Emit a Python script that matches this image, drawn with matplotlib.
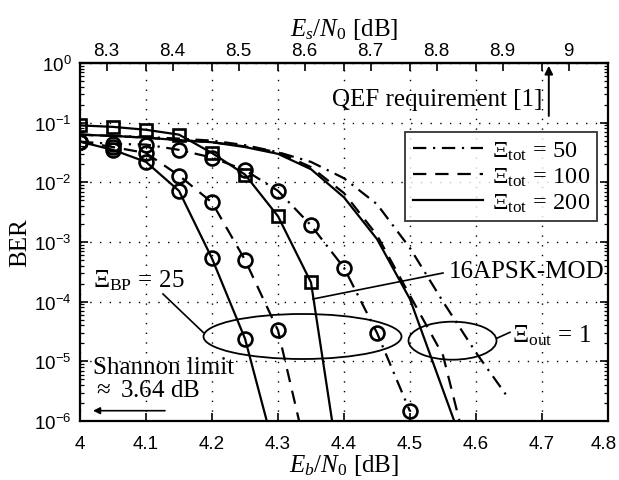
import numpy as np
import matplotlib
matplotlib.use('Agg')
import matplotlib.pyplot as plt
import matplotlib.transforms as mtransforms
from matplotlib.patches import Ellipse
from matplotlib.lines import Line2D
from matplotlib.ticker import LogLocator, NullFormatter, FixedLocator, FixedFormatter

plt.rcParams['font.family'] = ['Liberation Serif', 'DejaVu Serif']
plt.rcParams['mathtext.fontset'] = 'custom'
plt.rcParams['mathtext.rm'] = 'Liberation Serif'
plt.rcParams['mathtext.it'] = 'Liberation Serif:italic'
plt.rcParams['mathtext.bf'] = 'Liberation Serif:bold'
plt.rcParams['mathtext.sf'] = 'Liberation Sans'

# ---------------- data ----------------
# Xi_BP = 25 curves (circle markers); last point = where line leaves the plot
bp_x_200 = [4.0, 4.05, 4.1, 4.15, 4.2, 4.25, 4.283]
bp_y_200 = [4.8e-2, 3.5e-2, 2.2e-2, 7.2e-3, 5.3e-4, 2.4e-5, 1.0e-6]
bp_x_100 = [4.0, 4.05, 4.1, 4.15, 4.2, 4.25, 4.3, 4.332]
bp_y_100 = [4.8e-2, 3.9e-2, 3.1e-2, 1.3e-2, 4.6e-3, 5.0e-4, 3.3e-5, 1.0e-6]
bp_x_50 = [4.0, 4.05, 4.1, 4.15, 4.2, 4.25, 4.3, 4.35, 4.4, 4.45, 4.5]
bp_y_50 = [4.8e-2, 4.4e-2, 4.3e-2, 3.5e-2, 2.6e-2, 1.6e-2, 7.2e-3, 1.9e-3, 3.7e-4, 3.0e-5, 1.45e-6]

# 16APSK-MOD (square markers)
mod_x = [4.0, 4.05, 4.1, 4.15, 4.2, 4.25, 4.3, 4.35, 4.382]
mod_y = [9.0e-2, 8.5e-2, 7.6e-2, 6.3e-2, 3.1e-2, 1.35e-2, 2.7e-3, 2.1e-4, 1.0e-6]

# Xi_out = 1 curves (no markers)
out_x_200 = [4.0, 4.05, 4.1, 4.15, 4.2, 4.25, 4.3, 4.35, 4.4, 4.45, 4.5, 4.55, 4.567]
out_y_200 = [6.3e-2, 6.0e-2, 5.6e-2, 5.1e-2, 4.7e-2, 3.9e-2, 3.0e-2, 1.66e-2, 5.6e-3, 1.12e-3, 1.1e-4, 3.3e-6, 1.0e-6]
out_x_100 = [4.0, 4.05, 4.1, 4.15, 4.2, 4.25, 4.3, 4.35, 4.4, 4.45, 4.5, 4.55, 4.575]
out_y_100 = [6.3e-2, 6.0e-2, 5.6e-2, 5.1e-2, 4.7e-2, 4.0e-2, 3.2e-2, 1.8e-2, 6.6e-3, 1.3e-3, 1.26e-4, 1.26e-5, 1.0e-6]
out_x_50 = [4.0, 4.05, 4.1, 4.15, 4.2, 4.25, 4.3, 4.35, 4.4, 4.45, 4.5, 4.55, 4.6, 4.645]
out_y_50 = [6.3e-2, 6.0e-2, 5.75e-2, 5.4e-2, 5.0e-2, 4.2e-2, 3.2e-2, 2.2e-2, 1.17e-2, 4.3e-3, 7.9e-4, 1.0e-4, 1.4e-5, 2.8e-6]

legend_labels = [r'$\Xi_{\mathrm{tot}}\,=\,50$', r'$\Xi_{\mathrm{tot}}\,=\,100$', r'$\Xi_{\mathrm{tot}}\,=\,200$']
xticks = [4.0, 4.1, 4.2, 4.3, 4.4, 4.5, 4.6, 4.7, 4.8]
xticklabels = ['4', '4.1', '4.2', '4.3', '4.4', '4.5', '4.6', '4.7', '4.8']
es_ticks = [8.3, 8.4, 8.5, 8.6, 8.7, 8.8, 8.9, 9.0]
es_ticklabels = ['8.3', '8.4', '8.5', '8.6', '8.7', '8.8', '8.9', '9']
yticks = [1e-6, 1e-5, 1e-4, 1e-3, 1e-2, 1e-1, 1e0]
yticklabels = [r'$\mathsf{10^{-6}}$', r'$\mathsf{10^{-5}}$', r'$\mathsf{10^{-4}}$',
               r'$\mathsf{10^{-3}}$', r'$\mathsf{10^{-2}}$', r'$\mathsf{10^{-1}}$', r'$\mathsf{10^{0}}$']
es_offset = 10 * np.log10(4 * 2 / 3)   # 16APSK rate 2/3
qef_es = 8.97

# ---------------- styles ----------------
LW = 1.6
DASH = (0, (6, 4))
DASHDOT = (0, (6, 3, 1, 3))
SOLID = '-'
FS = 18

W, H = 619, 481
fig = plt.figure(figsize=(W / 100, H / 100), dpi=100)
L, R, T, B = 80, 608, 64, 422
ax = fig.add_axes([L / W, 1 - B / H, (R - L) / W, (B - T) / H])

def px(xp, yp):
    return ((xp - L) / (R - L), (B - yp) / (B - T))

circ = dict(marker='o', ms=10, mfc='none', mec='k', mew=1.9)
sq = dict(marker='s', ms=9, mfc='none', mec='k', mew=1.9)

ax.plot(out_x_50, out_y_50, color='k', lw=LW, ls=DASHDOT)
ax.plot(out_x_100, out_y_100, color='k', lw=LW, ls=DASH)
ax.plot(out_x_200, out_y_200, color='k', lw=LW, ls=SOLID)

ax.plot(mod_x, mod_y, color='k', lw=LW, ls=SOLID, markevery=list(range(len(mod_x) - 1)), **sq)
ax.plot(bp_x_50, bp_y_50, color='k', lw=LW, ls=DASHDOT, **circ)
ax.plot(bp_x_100, bp_y_100, color='k', lw=LW, ls=DASH, markevery=list(range(len(bp_x_100) - 1)), **circ)
ax.plot(bp_x_200, bp_y_200, color='k', lw=LW, ls=SOLID, markevery=list(range(len(bp_x_200) - 1)), **circ)

ax.set_yscale('log')
ax.set_xlim(4.0, 4.8)
ax.set_ylim(1e-6, 1e0)

ax.xaxis.set_major_locator(FixedLocator(xticks))
ax.xaxis.set_major_formatter(FixedFormatter(xticklabels))
ax.yaxis.set_major_locator(FixedLocator(yticks))
ax.yaxis.set_major_formatter(FixedFormatter(yticklabels))
ax.yaxis.set_minor_locator(LogLocator(base=10, subs=np.arange(2, 10)))
ax.yaxis.set_minor_formatter(NullFormatter())

ax.grid(True, which='major', color='k', lw=1.0, ls=(0, (1, 6)))
ax.tick_params(which='major', direction='in', length=6, width=1.2, top=True, right=True,
               labelsize=13.5, labelfontfamily='Liberation Sans')
ax.tick_params(axis='x', pad=10)
ax.tick_params(axis='y', pad=6)
ax.tick_params(which='minor', direction='in', length=3, width=0.9, right=True)
for s in ax.spines.values():
    s.set_linewidth(1.6)

# keep the last bottom tick label inside the canvas
last_lbl = ax.get_xticklabels()[-1]
last_lbl.set_transform(last_lbl.get_transform() +
                       mtransforms.ScaledTranslation(-4 / 100, 0, fig.dpi_scale_trans))

ax.set_xlabel(r'$E_b/N_0$ [dB]', fontsize=FS, labelpad=0)
ax.set_ylabel('BER', fontsize=FS, labelpad=2)

sec = ax.secondary_xaxis('top', functions=(lambda x: x + es_offset, lambda x: x - es_offset))
sec.xaxis.set_major_locator(FixedLocator(es_ticks))
sec.xaxis.set_major_formatter(FixedFormatter(es_ticklabels))
sec.tick_params(direction='in', length=6, width=1.2, labelsize=13.5,
                labelfontfamily='Liberation Sans', pad=3)
sec.set_xlabel(r'$E_s/N_0$ [dB]', fontsize=FS, labelpad=5)
sec.spines['top'].set_linewidth(1.6)

# legend
handles = [Line2D([], [], color='k', lw=LW, ls=DASHDOT),
           Line2D([], [], color='k', lw=LW, ls=DASH),
           Line2D([], [], color='k', lw=LW, ls=SOLID)]
leg = ax.legend(handles, legend_labels, loc='upper right', bbox_to_anchor=px(597, 133),
                fontsize=17.5, handlelength=2.9, handletextpad=0.35, labelspacing=0.15,
                borderpad=0.3, borderaxespad=0, frameon=True, fancybox=False)
leg.get_frame().set_edgecolor('k')
leg.get_frame().set_linewidth(1.3)

# annotations
qef_eb = qef_es - es_offset
ax.annotate('', xy=(qef_eb, 1.0), xycoords=('data', 'axes fraction'),
            xytext=(qef_eb, px(0, 117)[1]), textcoords=('data', 'axes fraction'),
            arrowprops=dict(arrowstyle='-|>', color='k', lw=1.4, mutation_scale=12,
                            shrinkA=0, shrinkB=2))
ax.text(*px(542, 100), 'QEF requirement [1]', transform=ax.transAxes, fontsize=FS,
        ha='right', va='center')

ax.add_patch(Ellipse(px(302.5, 337.5), 198 / (R - L), 45 / (B - T), transform=ax.transAxes,
                     fill=False, ec='k', lw=1.3))
ax.add_patch(Ellipse(px(452.5, 341.7), 88 / (R - L), 38 / (B - T), transform=ax.transAxes,
                     fill=False, ec='k', lw=1.3))

def seg(p0, p1):
    a, b = px(*p0), px(*p1)
    ax.add_line(Line2D([a[0], b[0]], [a[1], b[1]], transform=ax.transAxes, color='k', lw=1.2))

seg((163, 295), (203.3, 333.5))
seg((496.7, 339.3), (510, 333.3))
seg((313, 300), (443, 274))

ax.text(*px(93, 281), r'$\Xi_{\mathrm{BP}}\,=\,25$', transform=ax.transAxes, fontsize=FS,
        ha='left', va='center')
ax.text(*px(449, 272), '16APSK-MOD', transform=ax.transAxes, fontsize=FS,
        ha='left', va='center')
ax.text(*px(512, 336), r'$\Xi_{\mathrm{out}}\,=\,1$', transform=ax.transAxes, fontsize=FS,
        ha='left', va='center')
ax.text(*px(93, 368), 'Shannon limit', transform=ax.transAxes, fontsize=FS,
        ha='left', va='center')
ax.text(*px(93, 391), r'$\approx$ 3.64 dB', transform=ax.transAxes, fontsize=FS,
        ha='left', va='center')
ax.annotate('', xy=px(93, 411.7), xycoords='axes fraction', xytext=px(165, 411.7),
            textcoords='axes fraction',
            arrowprops=dict(arrowstyle='-|>', color='k', lw=1.2, mutation_scale=10,
                            shrinkA=0, shrinkB=0))

fig.savefig('out.png', dpi=100)
